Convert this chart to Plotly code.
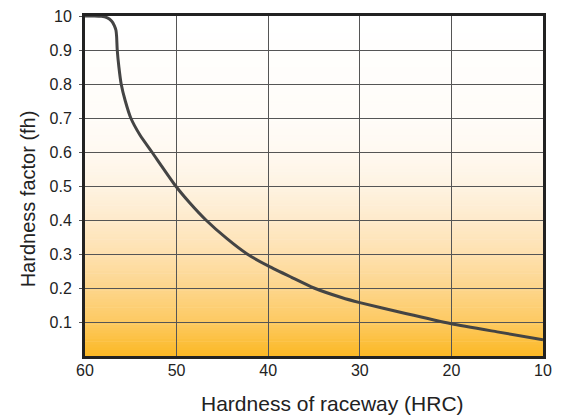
import plotly.graph_objects as go

# Data
hrc = [60, 59, 58.2, 57.6, 57.1, 56.8, 56.62, 56.55, 56.48, 56.3, 56.05, 55.6, 55.0,
       54.0, 52.7, 50.1, 48.55, 46.8, 44.5, 42.3, 40, 37.5, 35, 32, 30, 25, 20, 15, 10]
fh = [1.0, 1.0, 0.999, 0.995, 0.985, 0.972, 0.958, 0.94, 0.9, 0.85, 0.8, 0.75, 0.7,
      0.65, 0.6, 0.5, 0.45, 0.4, 0.345, 0.3, 0.265, 0.232, 0.2, 0.172, 0.157, 0.125,
      0.095, 0.071, 0.048]

x_ticks = [60, 50, 40, 30, 20, 10]
y_ticks = [0.1, 0.2, 0.3, 0.4, 0.5, 0.6, 0.7, 0.8, 0.9, 1.0]
y_tick_labels = ["0.1", "0.2", "0.3", "0.4", "0.5", "0.6", "0.7", "0.8", "0.9", "10"]

x_title = "Hardness of raceway (HRC)"
y_title = "Hardness factor (fh)"

# background gradient stops (position in plot height, rgb)
grad_stops = [(0.0, (252, 184, 36)), (0.1, (253, 202, 98)), (0.2, (253, 213, 140)),
              (0.3, (254, 225, 175)), (0.4, (254, 234, 203)), (0.5, (254, 243, 226)),
              (0.6, (255, 249, 241)), (0.7, (255, 252, 248)), (1.0, (255, 255, 255))]


def grad_color(t):
    for (t0, c0), (t1, c1) in zip(grad_stops[:-1], grad_stops[1:]):
        if t0 <= t <= t1:
            f = (t - t0) / (t1 - t0)
            c = [round(a + (b - a) * f) for a, b in zip(c0, c1)]
            return "rgb(%d,%d,%d)" % tuple(c)
    return "rgb(255,255,255)"


fig = go.Figure()

n_bands = 120
for i in range(n_bands):
    y0 = i / n_bands
    y1 = (i + 1) / n_bands
    fig.add_shape(type="rect", xref="paper", yref="paper", x0=0, x1=1, y0=y0, y1=y1 + 0.002,
                  fillcolor=grad_color((y0 + y1) / 2), line=dict(width=0), layer="below")

fig.add_trace(go.Scatter(x=hrc, y=fh, mode="lines",
                         line=dict(color="#444444", width=3, shape="spline", smoothing=0.6),
                         hoverinfo="skip"))

fig.update_layout(
    width=565, height=417,
    margin=dict(l=85, r=22, t=16, b=61, autoexpand=False),
    paper_bgcolor="white", plot_bgcolor="rgba(0,0,0,0)",
    showlegend=False,
    font=dict(family="Liberation Sans, Arial, sans-serif", color="#222222"),
)
fig.update_xaxes(range=[60, 10], tickvals=x_ticks, ticktext=[str(v) for v in x_ticks],
                 showgrid=True, gridcolor="#555555", gridwidth=1,
                 showline=True, linecolor="#222222", linewidth=3, mirror=True,
                 ticks="", tickfont=dict(size=16, color="#222222"), zeroline=False,
                 ticklabelstandoff=-2, automargin=False)
fig.update_yaxes(range=[0, 1.0], tickvals=y_ticks, ticktext=y_tick_labels,
                 showgrid=True, gridcolor="#555555", gridwidth=1,
                 showline=True, linecolor="#222222", linewidth=3, mirror=True,
                 ticks="outside", ticklen=3, tickcolor="#555555",
                 tickfont=dict(size=16, color="#222222"), zeroline=False,
                 ticklabelstandoff=4, automargin=False)

fig.add_annotation(text=x_title, xref="paper", yref="paper", x=0.54, y=-0.139,
                   yanchor="middle", xanchor="center", showarrow=False,
                   font=dict(size=21, color="#222222"))
fig.add_annotation(text=y_title, xref="paper", yref="paper", x=-0.125, y=0.463,
                   xanchor="center", yanchor="middle", textangle=-90, showarrow=False,
                   font=dict(size=20, color="#222222"))

fig.write_html("out.html", config={"displayModeBar": False},
               post_script="document.body.style.margin='0px';")
